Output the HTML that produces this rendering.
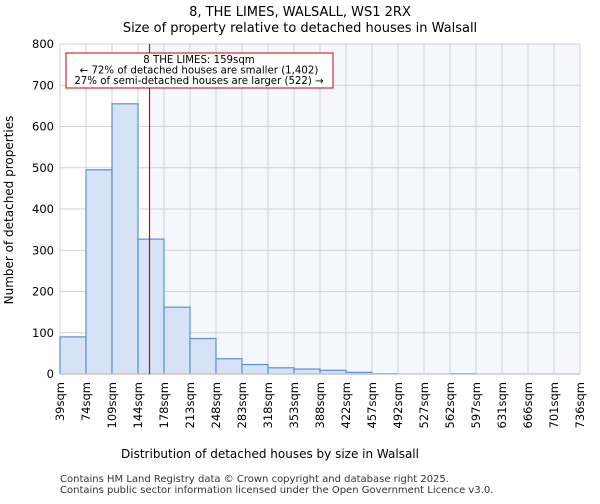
<!DOCTYPE html>
<html><head><meta charset="utf-8"><style>
body{margin:0;background:#fff;font-family:"DejaVu Sans","Liberation Sans",sans-serif}
</style></head><body>
<svg id="c" width="600" height="500" xmlns="http://www.w3.org/2000/svg" font-family="DejaVu Sans, Liberation Sans, sans-serif">
<text x="300" y="16" text-anchor="middle" font-size="13">8, THE LIMES, WALSALL, WS1 2RX</text>
<text x="300" y="32" text-anchor="middle" font-size="13">Size of property relative to detached houses in Walsall</text>
<g id="plot"></g>
<text x="270" y="458" text-anchor="middle" font-size="12">Distribution of detached houses by size in Walsall</text>
<text transform="translate(13,210) rotate(-90)" text-anchor="middle" font-size="12">Number of detached properties</text>
<text x="60" y="482" font-size="10" fill="#333">Contains HM Land Registry data © Crown copyright and database right 2025.</text>
<text x="60" y="493" font-size="10" fill="#333">Contains public sector information licensed under the Open Government Licence v3.0.</text>
</svg>
<script>
const tickLabels=["39sqm","74sqm","109sqm","144sqm","178sqm","213sqm","248sqm","283sqm","318sqm","353sqm","388sqm","422sqm","457sqm","492sqm","527sqm","562sqm","597sqm","631sqm","666sqm","701sqm","736sqm"];
const counts=[90,495,655,327,162,86,37,23,15,12,9,4,1,0,0,1,0,0,0,0];
const yTicks=[0,100,200,300,400,500,600,700,800];
const propertySize=159;
const binStart=39, binWidth=34.85;
const L=60,R=580,T=44,B=374,yMax=800;
const nb=counts.length, bw=(R-L)/nb;
const x=v=>L+(v-binStart)/binWidth*bw;
const xi=i=>L+i*bw;
const y=v=>B-v/yMax*(B-T);
const ns="http://www.w3.org/2000/svg";
const g=document.getElementById('plot');
function mk(t,a){const e=document.createElementNS(ns,t);for(const k in a)e.setAttribute(k,a[k]);g.appendChild(e);return e;}
const px=x(propertySize);
let e=mk('rect',{x:L,y:T,width:px-L,height:B-T,fill:'#ffffff'});


e=mk('rect',{x:px,y:T,width:R-px,height:B-T,fill:'#f5f7fe'});


yTicks.forEach(v=>{
 let l=mk('line',{x1:L,x2:R,y1:y(v),y2:y(v),stroke:'#d2d2d2','stroke-width':1});
 
 
 let t=mk('text',{x:L-6,y:y(v)+4,'text-anchor':'end','font-size':11.5});
 t.textContent=v;
 
 
});
tickLabels.forEach((s,i)=>{
 let l=mk('line',{x1:xi(i),x2:xi(i),y1:T,y2:B,stroke:'#d2d2d2','stroke-width':1});
 
 
 let t=mk('text',{transform:`translate(${xi(i)+4},382) rotate(-90)`,'text-anchor':'end','font-size':11.5});
 t.textContent=s;
 
 
});
counts.forEach((v,i)=>{
 if(v<=0)return;
 let r=mk('rect',{x:xi(i),y:y(v),width:bw,height:B-y(v),fill:'#d6e2f5',stroke:'#5b8fd6','stroke-width':1.2});
 
 
});
e=mk('line',{x1:L,x2:R,y1:B,y2:B,stroke:'#cccccc','stroke-width':1.5});


e=mk('line',{x1:px,x2:px,y1:T,y2:B,stroke:'#dd0000','stroke-width':1.2});


e=mk('rect',{x:66,y:53,width:267,height:35,fill:'#fff',stroke:'#cc0000','stroke-width':1});


["8 THE LIMES: 159sqm","← 72% of detached houses are smaller (1,402)","27% of semi-detached houses are larger (522) →"].forEach((s,i)=>{
 let t=mk('text',{x:199,y:63+i*10.5,'text-anchor':'middle','font-size':10.2});
 t.textContent=s;
 
 
});
</script>
</body></html>
